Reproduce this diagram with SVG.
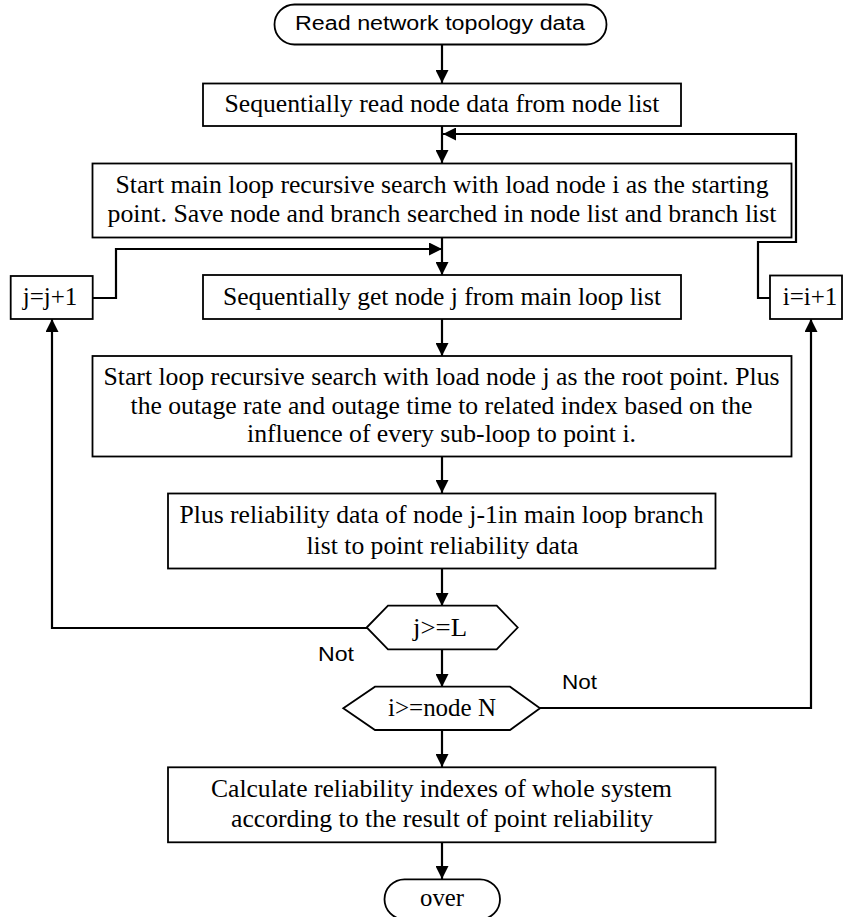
<svg xmlns="http://www.w3.org/2000/svg" width="843" height="917" viewBox="0 0 843 917">
<defs>
<marker id="arr" markerUnits="userSpaceOnUse" markerWidth="14" markerHeight="13" refX="13" refY="6.5" orient="auto">
<path d="M0,0 L13,6.5 L0,13 z" fill="#000"/>
</marker>
<style>
.box{fill:#fff;stroke:#000;stroke-width:1.8}
.t{font-family:"Liberation Serif","Times New Roman",serif;font-size:25px;fill:#000;text-anchor:middle}
.s{font-family:"Liberation Sans",Arial,sans-serif;font-size:20px;fill:#000}
.c{fill:none;stroke:#000;stroke-width:2.2}
</style>
</defs>
<rect width="843" height="917" fill="#fff"/>
<g id="connectors">
<path class="c" d="M442,45 V83" marker-end="url(#arr)"/>
<path class="c" d="M442,126 V163" marker-end="url(#arr)"/>
<path class="c" d="M540,708 H811 V319" marker-end="url(#arr)"/>
<path class="c" d="M770,298 H758 V242 H796 V134 H443" marker-end="url(#arr)"/>
<path class="c" d="M442,238 V275" marker-end="url(#arr)"/>
<path class="c" d="M93,298 H116 V249 H442" marker-end="url(#arr)"/>
<path class="c" d="M442,319 V356" marker-end="url(#arr)"/>
<path class="c" d="M442,457 V493" marker-end="url(#arr)"/>
<path class="c" d="M442,569 V606" marker-end="url(#arr)"/>
<path class="c" d="M367,628 H52 V319" marker-end="url(#arr)"/>
<path class="c" d="M442,649 V687" marker-end="url(#arr)"/>
<path class="c" d="M442,730 V767" marker-end="url(#arr)"/>
<path class="c" d="M442,842 V879" marker-end="url(#arr)"/>
<text class="s" x="318" y="661" textLength="36" lengthAdjust="spacingAndGlyphs">Not</text>
<text class="s" x="562" y="689" textLength="35" lengthAdjust="spacingAndGlyphs">Not</text>
</g>
<g id="start">
<rect class="box" x="274.5" y="4.5" width="332" height="40" rx="20" ry="20"/>
<text class="s" x="440" y="29.5" text-anchor="middle" textLength="290" lengthAdjust="spacingAndGlyphs">Read network topology data</text>
</g>
<g id="readNodes">
<rect class="box" x="203" y="83.5" width="478" height="42.5"/>
<text class="t" x="442" y="112" textLength="435" lengthAdjust="spacingAndGlyphs">Sequentially read node data from node list</text>
</g>
<g id="mainLoop">
<rect class="box" x="92.5" y="163.5" width="699" height="74"/>
<text class="t" x="442" y="193" textLength="653" lengthAdjust="spacingAndGlyphs">Start main loop recursive search with load node i as the starting</text>
<text class="t" x="442" y="222" textLength="669" lengthAdjust="spacingAndGlyphs">point. Save node and branch searched in node list and branch list</text>
</g>
<g id="jInc">
<rect class="box" x="10.7" y="276" width="82" height="43"/>
<text class="t" x="50" y="305">j=j+1</text>
</g>
<g id="iInc">
<rect class="box" x="770" y="275.5" width="72" height="43.5"/>
<text class="t" x="810" y="305">i=i+1</text>
</g>
<g id="getNodeJ">
<rect class="box" x="203" y="275" width="478" height="44"/>
<text class="t" x="442" y="305" textLength="438" lengthAdjust="spacingAndGlyphs">Sequentially get node j from main loop list</text>
</g>
<g id="loopSearch">
<rect class="box" x="92.5" y="356" width="699" height="100.5"/>
<text class="t" x="441.5" y="385" textLength="676" lengthAdjust="spacingAndGlyphs">Start loop recursive search with load node j as the root point. Plus</text>
<text class="t" x="441.5" y="414" textLength="622" lengthAdjust="spacingAndGlyphs">the outage rate and outage time to related index based on the</text>
<text class="t" x="441.5" y="442" textLength="389" lengthAdjust="spacingAndGlyphs">influence of every sub-loop to point i.</text>
</g>
<g id="plusData">
<rect class="box" x="168" y="493.5" width="547.5" height="75"/>
<text class="t" x="441.5" y="523" textLength="524" lengthAdjust="spacingAndGlyphs">Plus reliability data of node j-1in main loop branch</text>
<text class="t" x="442.5" y="554" textLength="272" lengthAdjust="spacingAndGlyphs">list to point reliability data</text>
</g>
<g id="decisionJ">
<polygon class="box" points="366.7,627.5 388,605.7 496.7,605.7 517.7,627.5 496.7,649.3 388,649.3"/>
<text class="t" x="440" y="636" textLength="54" lengthAdjust="spacingAndGlyphs">j&gt;=L</text>
</g>
<g id="decisionI">
<polygon class="box" points="343.3,708.3 375,686.7 510,686.7 540,708.3 510,730 375,730"/>
<text class="t" x="442" y="716" textLength="108" lengthAdjust="spacingAndGlyphs">i&gt;=node N</text>
</g>
<g id="calcSystem">
<rect class="box" x="168" y="767.3" width="547.5" height="75"/>
<text class="t" x="441.5" y="797" textLength="461" lengthAdjust="spacingAndGlyphs">Calculate reliability indexes of whole system</text>
<text class="t" x="442" y="827" textLength="422" lengthAdjust="spacingAndGlyphs">according to the result of point reliability</text>
</g>
<g id="over">
<rect class="box" x="384.5" y="879.3" width="115.5" height="40" rx="20" ry="20"/>
<text class="t" x="442" y="906" textLength="44" lengthAdjust="spacingAndGlyphs">over</text>
</g>
</svg>
